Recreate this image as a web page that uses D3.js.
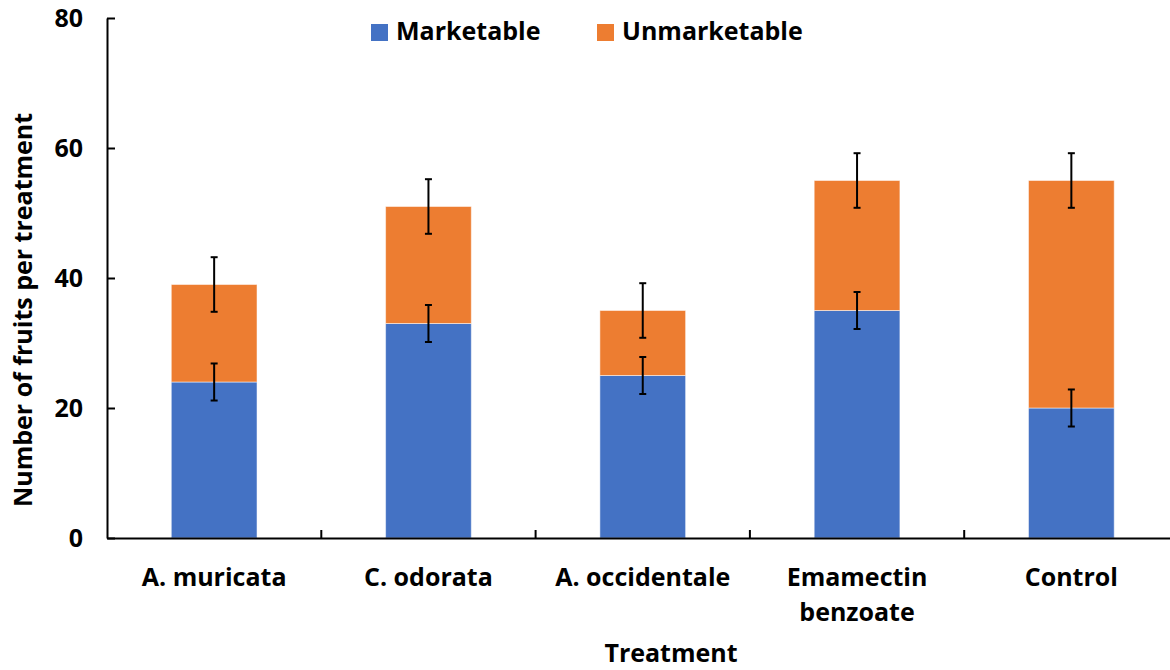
<!DOCTYPE html>
<html>
<head>
<meta charset="utf-8">
<script src="https://cdn.jsdelivr.net/npm/d3@7"></script>
<style>
  html, body { margin: 0; padding: 0; background: #fff; }
  svg { display: block; font-family: "Open Sans", Lato, sans-serif; font-weight: bold; }
</style>
</head>
<body>
<svg id="chart" width="1170" height="670"></svg>
<script>
const categories = ["A. muricata", "C. odorata", "A. occidentale", "Emamectin\nbenzoate", "Control"];
const seriesNames = ["Marketable", "Unmarketable"];
const marketable = [24, 33, 25, 35, 20];
const unmarketable = [15, 18, 10, 20, 35];
const marketableErr = [2.85, 2.85, 2.85, 2.85, 2.85];
const unmarketableErr = [4.2, 4.2, 4.2, 4.2, 4.2];
const yTicks = [0, 20, 40, 60, 80];
const colors = ["#4472C4", "#ED7D31"];

const svg = d3.select("#chart");
const x0 = 107, y0 = 538, yTop = 18;
const x = d3.scaleBand().domain(categories).range([x0, x0 + 5 * 214.3]).padding(0);
const y = d3.scaleLinear().domain([0, 80]).range([y0, yTop]);
const barW = x.bandwidth() * 0.4;

const rows = categories.map((c, i) => ({cat: c, Marketable: marketable[i], Unmarketable: unmarketable[i], i}));
const stack = d3.stack().keys(seriesNames)(rows);

stack.forEach((layer, li) => {
  svg.append("g").selectAll("rect").data(layer).join("rect")
    .attr("x", d => x(d.data.cat) + (x.bandwidth() - barW) / 2)
    .attr("width", barW)
    .attr("y", d => y(d[1]))
    .attr("height", d => y(d[0]) - y(d[1]))
    .attr("fill", colors[li])
    .attr("stroke", "rgba(255,255,255,0.5)")
    .attr("stroke-width", 1);
});

const errs = [marketableErr, unmarketableErr];
stack.forEach((layer, li) => {
  const g = svg.append("g").attr("stroke", "#000").attr("stroke-width", 2);
  layer.forEach((d, i) => {
    const cx = x(d.data.cat) + x.bandwidth() / 2;
    const e = errs[li][i];
    const top = y(d[1] + e), bot = y(d[1] - e);
    g.append("line").attr("x1", cx).attr("x2", cx).attr("y1", top).attr("y2", bot);
    g.append("line").attr("x1", cx - 3.5).attr("x2", cx + 3.5).attr("y1", top).attr("y2", top);
    g.append("line").attr("x1", cx - 3.5).attr("x2", cx + 3.5).attr("y1", bot).attr("y2", bot);
  });
});

const yAxis = svg.append("g").attr("transform", `translate(${x0},0)`)
  .call(d3.axisLeft(y).tickValues(yTicks).tickSize(-8).tickPadding(24).tickSizeOuter(0));
yAxis.select(".domain").attr("stroke", "#000").attr("stroke-width", 2);
yAxis.selectAll(".tick line").attr("stroke", "#000").attr("stroke-width", 2);
yAxis.selectAll(".tick text").attr("font-size", 25).attr("font-family", "'Open Sans', sans-serif").attr("font-weight", "bold").attr("fill", "#000");

const xAxis = svg.append("g").attr("transform", `translate(0,${y0})`)
  .call(d3.axisBottom(x).tickSizeOuter(0).tickSize(0).tickFormat(""));
xAxis.select(".domain").attr("stroke", "#000").attr("stroke-width", 2);
xAxis.selectAll(".tick line").remove();
const bounds = categories.slice(1).map(c => x(c));
svg.append("g").selectAll("line").data(bounds).join("line")
  .attr("x1", d => d).attr("x2", d => d)
  .attr("y1", y0).attr("y2", y0 - 8)
  .attr("stroke", "#000").attr("stroke-width", 2);

categories.forEach(c => {
  const lines = c.split("\n");
  const t = svg.append("text")
    .attr("x", x(c) + x.bandwidth() / 2)
    .attr("y", 586)
    .attr("text-anchor", "middle")
    .attr("font-size", 25)
    .attr("fill", "#000");
  lines.forEach((l, k) => t.append("tspan").attr("x", x(c) + x.bandwidth() / 2).attr("dy", k === 0 ? 0 : 35).text(l));
});

svg.append("text").attr("x", 671).attr("y", 662).attr("text-anchor", "middle")
  .attr("font-size", 25).attr("fill", "#000").text("Treatment");
svg.append("text").attr("transform", "translate(32,310) rotate(-90)").attr("text-anchor", "middle")
  .attr("font-size", 25).attr("fill", "#000").text("Number of fruits per treatment");

const legendPos = [371, 597];
seriesNames.forEach((s, i) => {
  svg.append("rect").attr("x", legendPos[i]).attr("y", 24).attr("width", 17).attr("height", 17).attr("fill", colors[i]);
  svg.append("text").attr("x", legendPos[i] + 25).attr("y", 40).attr("font-size", 25).attr("fill", "#000").text(s);
});
</script>
</body>
</html>
